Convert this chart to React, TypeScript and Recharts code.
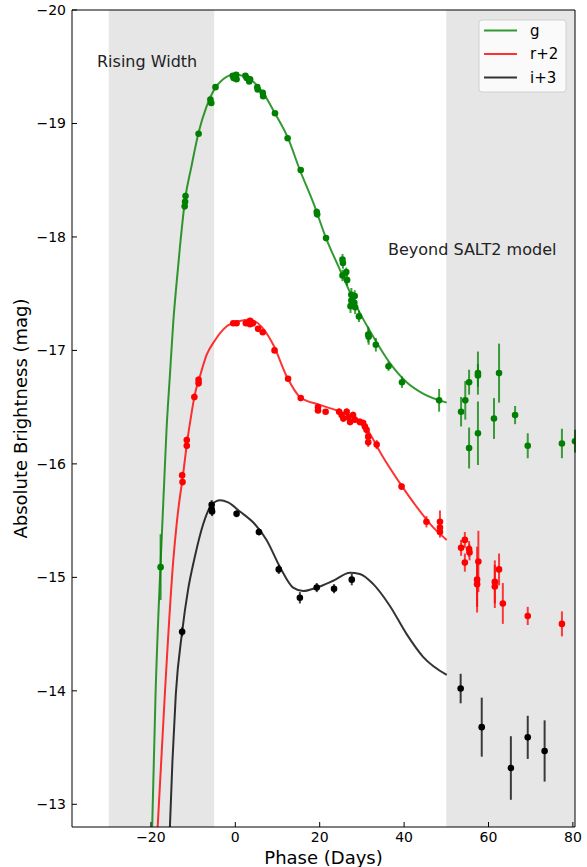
import { ComposedChart, ErrorBar, Line, ReferenceArea, Scatter, XAxis, YAxis } from "recharts";

// SALT2-style model curves (phase in days, absolute mag)
const gFitPhase = [-19.7, -18.9, -17.7, -16.9, -16.3, -15.5, -14.7, -13.9, -13.1, -11.9, -10.4, -8.7, -6.8, -4.8, -2.9, -0.5, 1.9, 4.2, 6.6, 9.4, 12.4, 15.3, 18.5, 21.5, 24.8, 28.7, 32.7, 36.6, 40.6, 44.5, 50.1];
const gFitMag = [-12.8, -13.97, -15.13, -15.8, -16.3, -16.78, -17.25, -17.6, -17.92, -18.33, -18.62, -18.92, -19.15, -19.31, -19.39, -19.43, -19.42, -19.37, -19.27, -19.09, -18.88, -18.59, -18.3, -17.99, -17.71, -17.39, -17.12, -16.89, -16.72, -16.62, -16.54];

const rFitPhase = [-18.4, -16.7, -14.7, -13.9, -13.3, -12.5, -11.5, -10.4, -9.6, -8.4, -6.8, -4.8, -2.1, 1.1, 3.5, 6.2, 9.0, 12.2, 15.3, 20.0, 24.8, 27.9, 30.3, 32.3, 35.0, 39.0, 43.0, 46.9, 50.1];
const rFitMag = [-12.8, -13.97, -15.15, -15.47, -15.66, -15.87, -16.17, -16.44, -16.61, -16.77, -16.96, -17.09, -17.21, -17.26, -17.27, -17.21, -17.05, -16.77, -16.59, -16.52, -16.46, -16.41, -16.36, -16.24, -16.06, -15.83, -15.62, -15.44, -15.33];

const iFitPhase = [-15.5, -14.9, -14.1, -12.6, -11.2, -9.6, -7.6, -5.6, -3.6, -1.7, 1.1, 4.6, 7.4, 10.6, 13.7, 16.1, 19.3, 23.2, 27.2, 29.5, 32.7, 36.6, 40.6, 44.5, 50.1];
const iFitMag = [-12.8, -13.38, -13.97, -14.52, -14.89, -15.18, -15.47, -15.64, -15.68, -15.66, -15.58, -15.47, -15.33, -15.09, -14.91, -14.88, -14.91, -14.97, -15.04, -15.03, -14.94, -14.75, -14.5, -14.3, -14.14];

// photometry: g
const gPhase = [-17.7, -12.0, -11.9, -11.8, -8.7, -5.9, -5.7, -4.7, -0.6, -0.4, 0.0, 0.2, 0.3, 2.4, 2.7, 3.3, 3.5, 5.2, 5.3, 6.5, 6.6, 9.4, 12.4, 15.5, 19.3, 19.4, 21.5, 25.4, 25.5, 25.4, 26.3, 26.5, 27.5, 28.3, 27.5, 28.2, 27.3, 28.4, 29.3, 31.5, 31.6, 33.3, 36.3, 39.5, 48.3,
  53.5, 54.5, 55.4, 55.4, 57.5, 57.5, 57.5, 61.3, 62.5, 66.3, 69.3, 77.4, 80.5];
const gMag = [-15.09, -18.27, -18.31, -18.36, -18.91, -19.21, -19.18, -19.32, -19.42, -19.4, -19.41, -19.43, -19.39, -19.42, -19.4, -19.37, -19.39, -19.32, -19.3, -19.27, -19.24, -19.09, -18.87, -18.59, -18.22, -18.2, -17.99, -17.8, -17.77, -17.66, -17.69, -17.62, -17.49, -17.48, -17.44, -17.42, -17.39, -17.38, -17.3, -17.14, -17.12, -17.05, -16.86, -16.72, -16.56,
  -16.46, -16.56, -16.72, -16.14, -16.8, -16.78, -16.27, -16.4, -16.8, -16.43, -16.16, -16.18, -16.2];
const gErr = [0.29, 0.03, 0.03, 0.03, 0.02, 0.02, 0.02, 0.02, 0.02, 0.02, 0.02, 0.02, 0.02, 0.02, 0.02, 0.02, 0.02, 0.02, 0.02, 0.02, 0.02, 0.02, 0.02, 0.02, 0.03, 0.03, 0.02, 0.05, 0.05, 0.05, 0.04, 0.05, 0.06, 0.05, 0.06, 0.06, 0.06, 0.06, 0.05, 0.07, 0.07, 0.06, 0.04, 0.05, 0.1,
  0.13, 0.17, 0.11, 0.18, 0.19, 0.1, 0.28, 0.18, 0.26, 0.08, 0.11, 0.13, 0.1];

// photometry: r+2
const rPhase = [-12.6, -12.5, -11.5, -11.5, -9.7, -8.7, -8.7, -0.5, 0.3, 2.5, 3.5, 3.5, 4.2, 5.4, 6.5, 9.3, 12.5, 15.5, 19.6, 19.6, 21.4, 24.6, 25.2, 25.6, 26.4, 26.8, 27.2, 27.9, 28.3, 29.5, 30.3, 30.7, 31.1, 31.5, 31.5, 33.5, 39.4, 45.3, 48.5, 48.5, 48.5,
  53.5, 54.4, 54.4, 55.4, 55.5, 57.3, 57.3, 57.6, 61.5, 61.5, 62.5, 63.4, 69.3, 77.4];
const rMag = [-15.9, -15.84, -16.21, -16.16, -16.59, -16.74, -16.71, -17.24, -17.24, -17.24, -17.26, -17.23, -17.24, -17.19, -17.16, -17.0, -16.75, -16.58, -16.5, -16.47, -16.46, -16.46, -16.43, -16.4, -16.46, -16.41, -16.37, -16.43, -16.39, -16.37, -16.36, -16.33, -16.3, -16.24, -16.19, -16.17, -15.8, -15.49, -15.49, -15.44, -15.4,
  -15.26, -15.33, -15.13, -15.25, -15.22, -14.98, -14.94, -15.14, -14.96, -14.92, -15.07, -14.77, -14.66, -14.59];
const rErr = [0.03, 0.03, 0.03, 0.03, 0.03, 0.03, 0.03, 0.02, 0.02, 0.02, 0.02, 0.02, 0.02, 0.02, 0.02, 0.02, 0.02, 0.02, 0.02, 0.02, 0.02, 0.03, 0.03, 0.03, 0.03, 0.03, 0.03, 0.03, 0.03, 0.03, 0.03, 0.03, 0.04, 0.04, 0.04, 0.04, 0.03, 0.05, 0.1, 0.05, 0.05,
  0.07, 0.07, 0.08, 0.07, 0.07, 0.29, 0.2, 0.27, 0.19, 0.19, 0.14, 0.18, 0.08, 0.11];

// photometry: i+3
const iPhase = [-12.6, -5.6, -5.6, -5.5, 0.3, 5.6, 10.3, 15.3, 19.3, 23.4, 27.6, 53.4, 58.4, 65.3, 69.3, 73.3];
const iMag = [-14.52, -15.64, -15.6, -15.58, -15.56, -15.4, -15.07, -14.82, -14.91, -14.9, -14.98, -14.02, -13.68, -13.32, -13.59, -13.47];
const iErr = [0.04, 0.04, 0.04, 0.04, 0.03, 0.03, 0.04, 0.05, 0.04, 0.04, 0.05, 0.13, 0.26, 0.28, 0.19, 0.27];

const xTicks = [-20, 0, 20, 40, 60, 80];
const yTicks = [-20, -19, -18, -17, -16, -15, -14, -13];

const FONT = "DejaVu Sans, sans-serif";
const GREEN = "#008000";
const RED = "#ff0000";
const BLACK = "#000000";

const fit = (phase: number[], mag: number[]) => phase.map((p, i) => ({ phase: p, mag: mag[i] }));
const obs = (phase: number[], mag: number[], err: number[]) =>
  phase.map((p, i) => ({ phase: p, mag: mag[i], err: err[i] }));

const minus = (v: number) => (v < 0 ? `\u2212${Math.abs(v)}` : `${v}`);

const dot = (color: string) => (props: any) =>
  props.cx == null ? <g /> : <circle cx={props.cx} cy={props.cy} r={3.3} fill={color} />;

const tickStyle = { fill: "#000", fontSize: 14, fontFamily: FONT };

export default function App() {
  const gFit = fit(gFitPhase, gFitMag);
  const rFit = fit(rFitPhase, rFitMag);
  const iFit = fit(iFitPhase, iFitMag);

  return (
    <div style={{ position: "absolute", left: 0, top: 0, width: 587, height: 867, background: "#fff" }}>
      <ComposedChart width={587} height={867} margin={{ top: 10, right: 12, bottom: 0, left: 0 }}>
        <XAxis
          type="number"
          dataKey="phase"
          domain={[-38.7, 80.5]}
          allowDataOverflow
          ticks={xTicks}
          tickFormatter={minus}
          height={40}
          tick={tickStyle}
          tickSize={-5}
          tickMargin={10}
          axisLine={{ stroke: "#000" }}
          tickLine={{ stroke: "#000" }}
          label={{ value: "Phase (Days)", position: "insideBottom", offset: 3, style: { fontSize: 18, fontFamily: FONT, fill: "#000" } }}
        />
        <YAxis
          type="number"
          dataKey="mag"
          domain={[-20, -12.8]}
          reversed
          allowDataOverflow
          ticks={yTicks}
          tickFormatter={minus}
          width={72}
          tick={tickStyle}
          tickSize={-5}
          tickMargin={11}
          axisLine={{ stroke: "#000" }}
          tickLine={{ stroke: "#000" }}
          label={{
            value: "Absolute Brightness (mag)",
            angle: -90,
            position: "insideLeft",
            offset: 21,
            style: { textAnchor: "middle", fontSize: 18, fontFamily: FONT, fill: "#000" },
          }}
        />
        <ReferenceArea x1={-30} x2={-5} fill="#808080" fillOpacity={0.2} stroke="none" ifOverflow="hidden" />
        <ReferenceArea x1={50} x2={80.5} fill="#808080" fillOpacity={0.2} stroke="none" ifOverflow="hidden" />

        <Line data={gFit} dataKey="mag" type="monotone" stroke={GREEN} strokeOpacity={0.8} strokeWidth={2} dot={false} isAnimationActive={false} />
        <Line data={rFit} dataKey="mag" type="monotone" stroke={RED} strokeOpacity={0.8} strokeWidth={2} dot={false} isAnimationActive={false} />
        <Line data={iFit} dataKey="mag" type="monotone" stroke={BLACK} strokeOpacity={0.8} strokeWidth={2} dot={false} isAnimationActive={false} />

        <Scatter data={obs(gPhase, gMag, gErr)} dataKey="mag" shape={dot(GREEN)} isAnimationActive={false}>
          <ErrorBar dataKey="err" direction="y" width={0} stroke={GREEN} strokeOpacity={0.75} strokeWidth={2} />
        </Scatter>
        <Scatter data={obs(rPhase, rMag, rErr)} dataKey="mag" shape={dot(RED)} isAnimationActive={false}>
          <ErrorBar dataKey="err" direction="y" width={0} stroke={RED} strokeOpacity={0.75} strokeWidth={2} />
        </Scatter>
        <Scatter data={obs(iPhase, iMag, iErr)} dataKey="mag" shape={dot(BLACK)} isAnimationActive={false}>
          <ErrorBar dataKey="err" direction="y" width={0} stroke={BLACK} strokeOpacity={0.75} strokeWidth={2} />
        </Scatter>
      </ComposedChart>

      {/* spines, annotations and legend on top */}
      <svg width={587} height={867} style={{ position: "absolute", left: 0, top: 0, pointerEvents: "none" }}>
        <line x1={72} y1={10} x2={575} y2={10} stroke="#000" strokeWidth={1} />
        <line x1={575} y1={10} x2={575} y2={827} stroke="#000" strokeWidth={1} />
        <text x={97} y={67} fontSize={16} fontFamily={FONT} fill="#222">Rising Width</text>
        <text x={388} y={254.5} fontSize={16} fontFamily={FONT} fill="#222">Beyond SALT2 model</text>
        <rect x={479} y={20} width={87} height={72} rx={3} fill="#fff" fillOpacity={0.8} stroke="#d0d0d0" />
        <line x1={484} y1={30.5} x2={517} y2={30.5} stroke={GREEN} strokeOpacity={0.8} strokeWidth={2} />
        <line x1={484} y1={54} x2={517} y2={54} stroke={RED} strokeOpacity={0.8} strokeWidth={2} />
        <line x1={484} y1={77.5} x2={517} y2={77.5} stroke={BLACK} strokeOpacity={0.8} strokeWidth={2} />
        <text x={530} y={35.5} fontSize={15} fontFamily={FONT} fill="#000">g</text>
        <text x={530} y={59} fontSize={15} fontFamily={FONT} fill="#000">r+2</text>
        <text x={530} y={82.5} fontSize={15} fontFamily={FONT} fill="#000">i+3</text>
      </svg>
    </div>
  );
}
